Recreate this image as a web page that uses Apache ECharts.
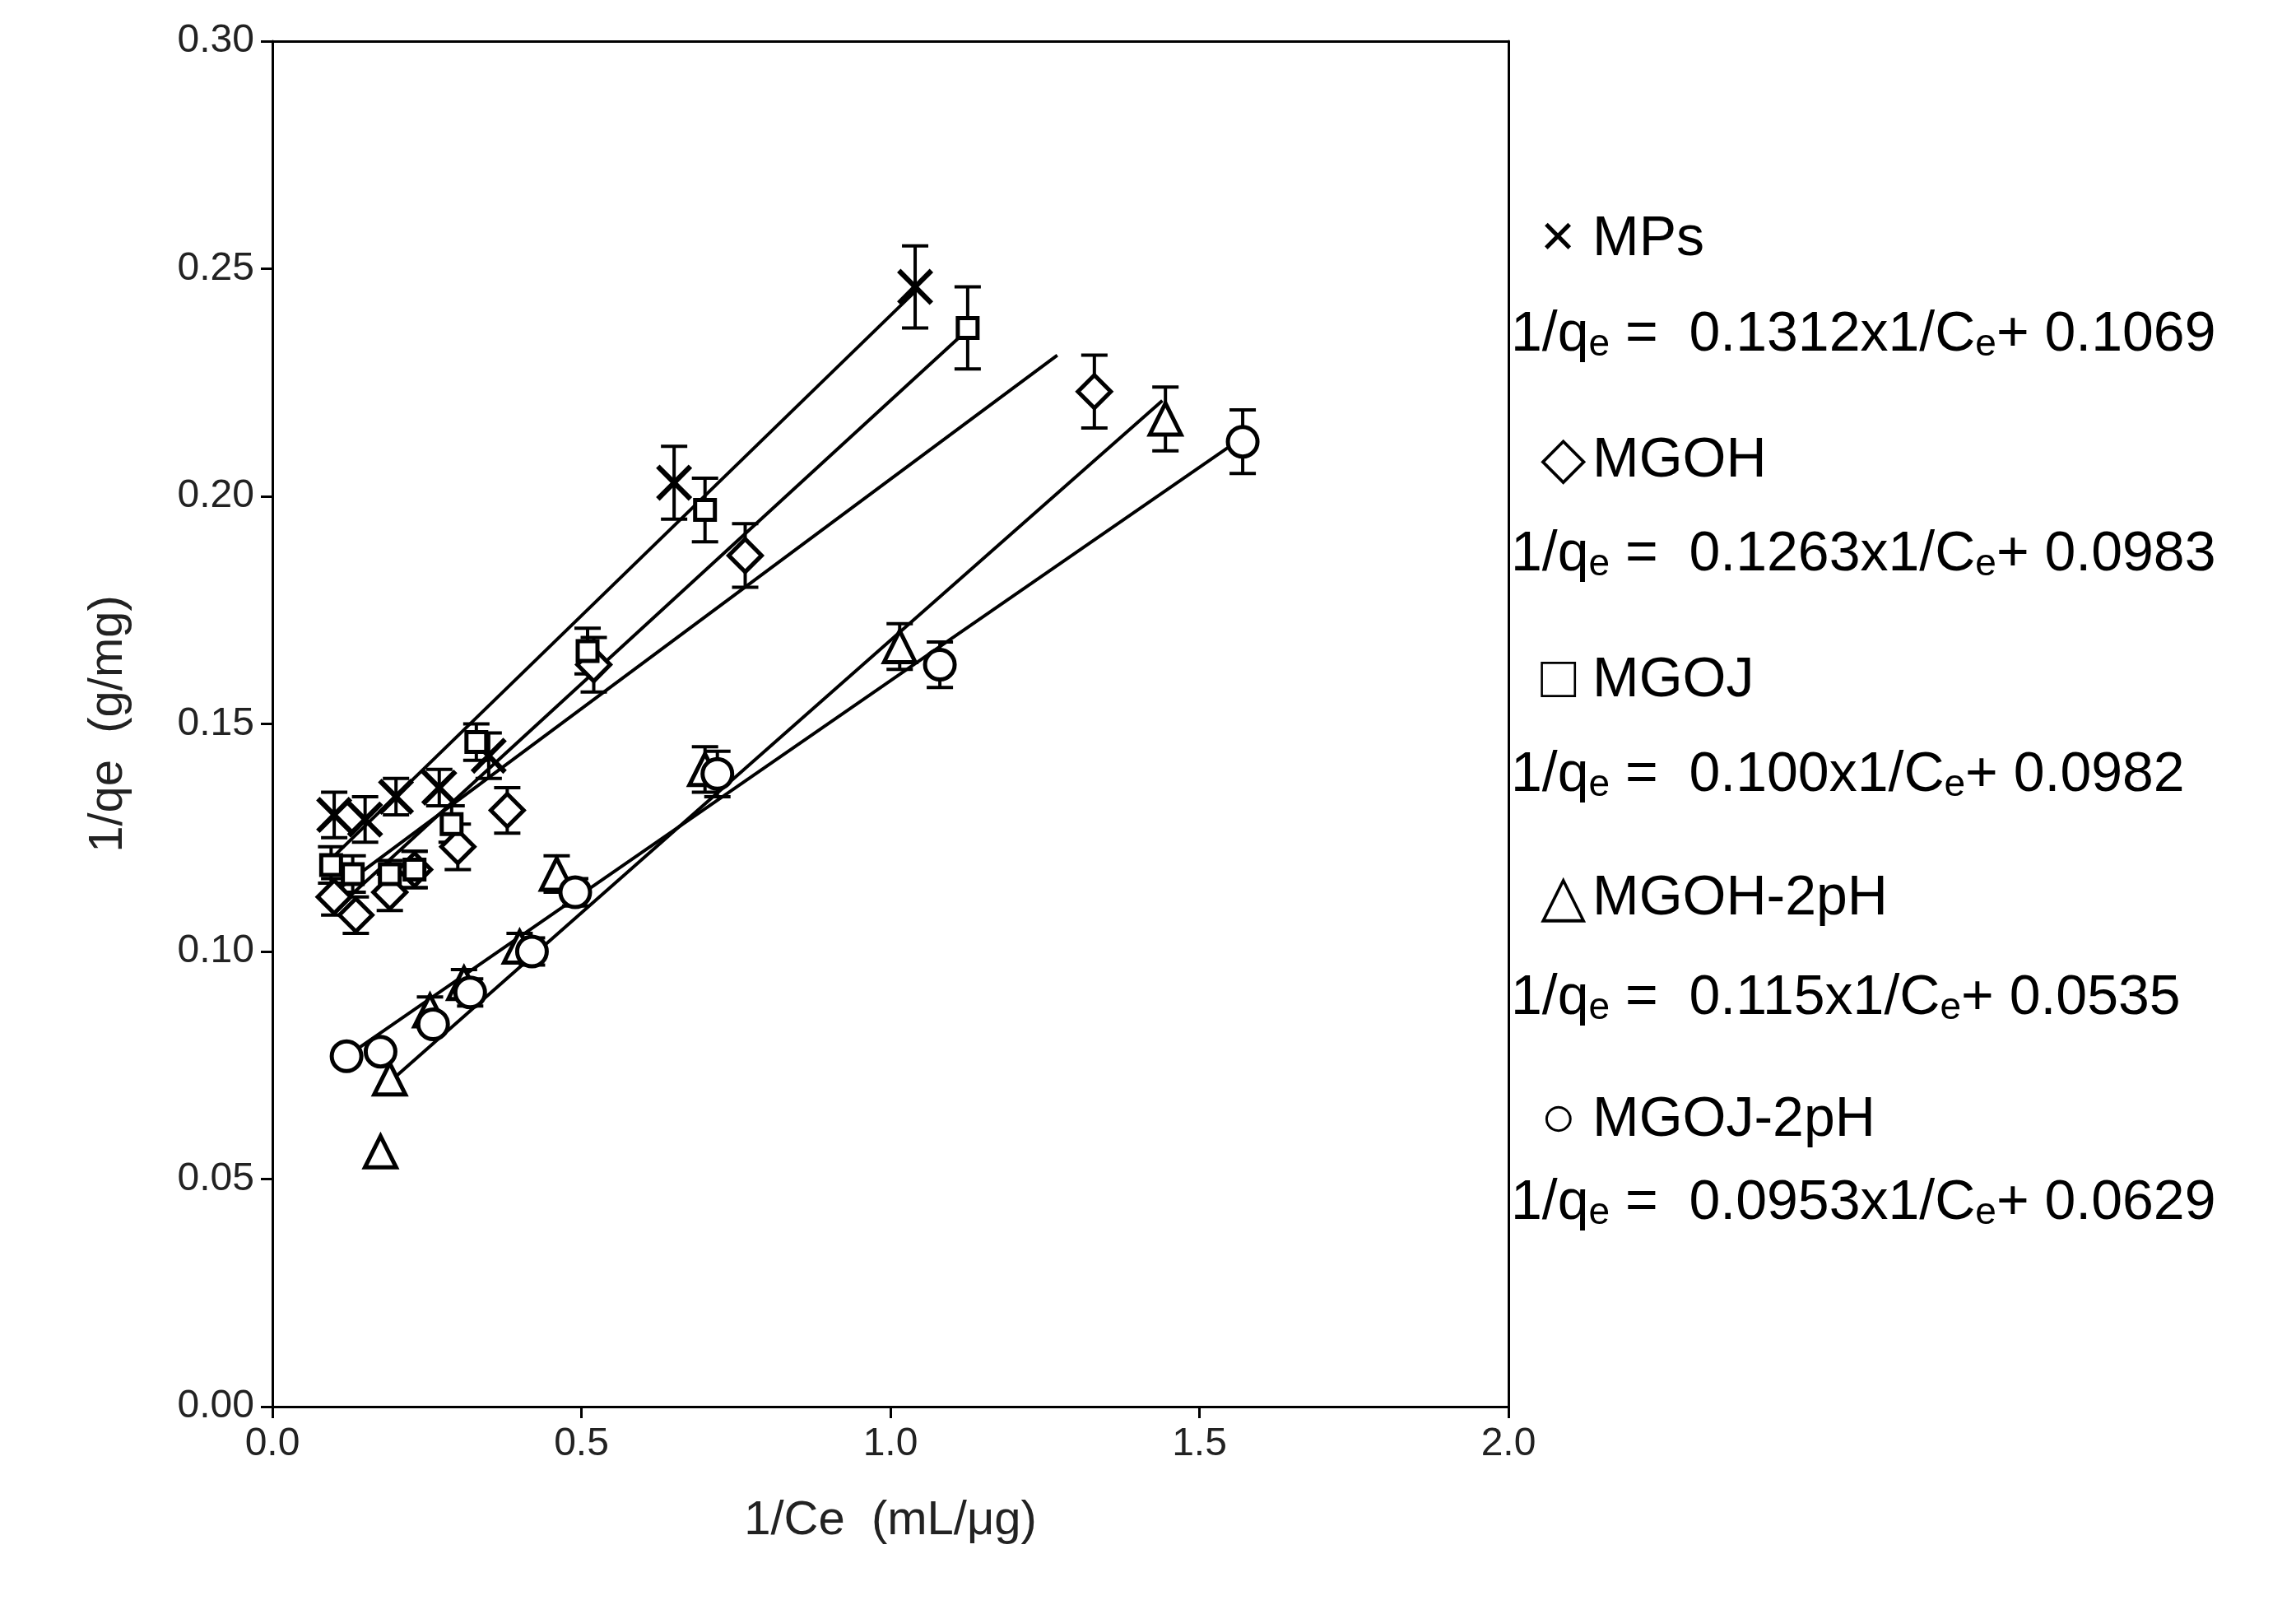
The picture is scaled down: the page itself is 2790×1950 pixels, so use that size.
<!DOCTYPE html>
<html><head><meta charset="utf-8">
<script src="https://cdn.jsdelivr.net/npm/echarts@6/dist/echarts.min.js"></script>
<style>html,body{margin:0;background:#fff}#c{width:2790px;height:1950px}</style>
</head><body><div id="c"></div>
<script>
const seriesNames = ['MPs','MGOH','MGOJ','MGOH-2pH','MGOJ-2pH'];
const mpsX = [0.10,0.15,0.20,0.27,0.35,0.65,1.04];
const mpsY = [0.130,0.129,0.134,0.136,0.143,0.203,0.246];
const mpsE = [0.005,0.005,0.004,0.004,0.005,0.008,0.009];
const mgohX = [0.10,0.135,0.19,0.23,0.30,0.38,0.52,0.765,1.33];
const mgohY = [0.112,0.108,0.113,0.118,0.123,0.131,0.163,0.187,0.223];
const mgohE = [0.004,0.004,0.004,0.004,0.005,0.005,0.006,0.007,0.008];
const mgojX = [0.095,0.13,0.19,0.23,0.29,0.33,0.51,0.70,1.125];
const mgojY = [0.119,0.117,0.117,0.118,0.128,0.146,0.166,0.197,0.237];
const mgojE = [0.004,0.004,0.003,0.004,0.004,0.004,0.005,0.007,0.009];
const m2X = [0.175,0.19,0.255,0.31,0.40,0.46,0.70,1.015,1.445];
const m2Y = [0.056,0.072,0.087,0.093,0.101,0.117,0.140,0.167,0.217];
const m2E = [0.000,0.000,0.003,0.003,0.003,0.004,0.005,0.005,0.007];
const j2X = [0.12,0.175,0.26,0.32,0.42,0.49,0.72,1.08,1.57];
const j2Y = [0.077,0.078,0.084,0.091,0.100,0.113,0.139,0.163,0.212];
const j2E = [0.000,0.000,0.002,0.003,0.003,0.003,0.005,0.005,0.007];
// fitted line endpoints
const fitMPs = [[0.10,0.121],[1.04,0.245]];
const fitMGOJ = [[0.10,0.109],[1.12,0.236]];
const fitMGOH = [[0.10,0.113],[1.27,0.231]];
const fitM2 = [[0.17,0.069],[1.44,0.221]];
const fitJ2 = [[0.11,0.076],[1.56,0.212]];
const xTicks = ['0.0','0.5','1.0','1.5','2.0'];
const eqs = [['0.1312','0.1069'],['0.1263','0.0983'],['0.100','0.0982'],['0.115','0.0535'],['0.0953','0.0629']];
const legendSyms = ['×','◇','□','△','○'];

const zip=(a,b)=>a.map((v,i)=>[v,b[i]]);
const sets=[
 {x:mpsX,y:mpsY,e:mpsE,sym:'path://M0,1L1,0L5,4L9,0L10,1L6,5L10,9L9,10L5,6L1,10L0,9L4,5Z',size:44,fill:'#000'},
 {x:mgohX,y:mgohY,e:mgohE,sym:'diamond',size:40},
 {x:mgojX,y:mgojY,e:mgojE,sym:'rect',size:24},
 {x:m2X,y:m2Y,e:m2E,sym:'triangle',size:38},
 {x:j2X,y:j2Y,e:j2E,sym:'circle',size:36}
];
const series=[];
[fitMPs,fitMGOJ,fitMGOH,fitM2,fitJ2].forEach(f=>series.push({type:'line',data:f,symbol:'none',lineStyle:{color:'#000',width:4},z:2,silent:true}));
sets.forEach(s=>{
 series.push({type:'custom',z:3,data:s.x.map((v,i)=>[v,s.y[i],s.e[i]]),
  renderItem:(p,api)=>{const x=api.value(0),y=api.value(1),e=api.value(2);
   if(!e) return null;
   const a=api.coord([x,y+e]),b=api.coord([x,y-e]);const w=16;
   const st={stroke:'#000',lineWidth:4};
   return {type:'group',children:[
    {type:'line',shape:{x1:a[0],y1:a[1],x2:b[0],y2:b[1]},style:st},
    {type:'line',shape:{x1:a[0]-w,y1:a[1],x2:a[0]+w,y2:a[1]},style:st},
    {type:'line',shape:{x1:b[0]-w,y1:b[1],x2:b[0]+w,y2:b[1]},style:st}]};
  }});
 series.push({type:'scatter',z:4,data:zip(s.x,s.y),symbol:s.sym,symbolSize:s.size,
  itemStyle:{color:s.fill||'#fff',borderColor:'#000',borderWidth:s.fill?0:5,opacity:1}});
});
const font='Arial, "Liberation Sans", sans-serif';
const graphics=[];
const symY=[297,566,833,1098,1367], eqY=[413,680,948,1219,1468];
seriesNames.forEach((n,i)=>{
 graphics.push({type:'text',left:1872,top:symY[i]-42,style:{text:legendSyms[i],font:'72px '+font,fill:'#000'}});
 graphics.push({type:'text',left:1935,top:symY[i]-40,style:{text:n,font:'68px '+font,fill:'#000'}});
 graphics.push({type:'text',left:1836,top:eqY[i]-40,style:{
  text:'1/q{s|e} =  '+eqs[i][0]+'x1/C{s|e}+ '+eqs[i][1],
  font:'68px '+font,fill:'#000',rich:{s:{fontSize:46,fontFamily:font,padding:[24,0,0,0]}}}});
});
const chart=echarts.init(document.getElementById('c'));
const frame={show:true,onZero:false,lineStyle:{color:'#000',width:3}};
chart.setOption({
 animation:false,backgroundColor:'#fff',
 grid:{left:331,right:957,top:50,bottom:241},
 xAxis:[{type:'value',min:0,max:2,interval:0.5,name:'1/Ce  (mL/μg)',nameLocation:'middle',nameGap:110,
  nameTextStyle:{fontSize:58,fontFamily:font,color:'#222'},
  axisLine:frame,axisTick:{inside:false,length:14,lineStyle:{color:'#000',width:3}},
  axisLabel:{fontSize:48,fontFamily:font,color:'#222',margin:22,formatter:v=>v.toFixed(1)},splitLine:{show:false}},
  {type:'value',position:'top',min:0,max:2,axisLine:frame,axisTick:{show:false},axisLabel:{show:false},splitLine:{show:false}}],
 yAxis:[{type:'value',min:0,max:0.3,interval:0.05,name:'1/qe  (g/mg)',nameLocation:'middle',nameGap:170,
  nameTextStyle:{fontSize:58,fontFamily:font,color:'#222'},
  axisLine:frame,axisTick:{show:true,length:14,lineStyle:{color:'#000',width:3}},
  axisLabel:{fontSize:48,fontFamily:font,color:'#222',margin:22,formatter:v=>v.toFixed(2)},splitLine:{show:false}},
  {type:'value',position:'right',min:0,max:0.3,axisLine:frame,axisTick:{show:false},axisLabel:{show:false},splitLine:{show:false}}],
 series:series,
 graphic:graphics
});
</script></body></html>
